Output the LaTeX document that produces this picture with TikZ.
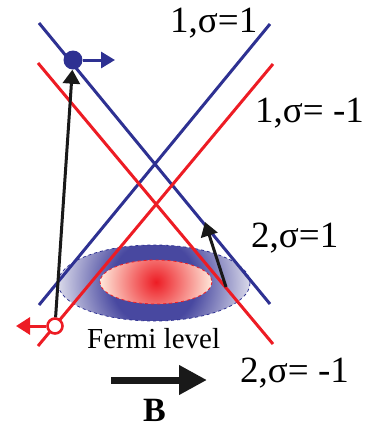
\documentclass[tikz,border=0pt]{standalone}
\usepackage{fontspec}
\setmainfont{Liberation Serif}
\usetikzlibrary{arrows.meta}
\definecolor{bblue}{RGB}{46,49,146}
\definecolor{rred}{RGB}{237,28,36}
\definecolor{bdark}{RGB}{72,72,160}
\definecolor{blight}{RGB}{218,218,234}
\definecolor{rpale}{RGB}{254,232,218}
\pgfdeclareradialshading{blueell}{\pgfpoint{0bp}{0bp}}{color(0bp)=(bdark); color(11bp)=(bdark); color(25bp)=(blight); color(50bp)=(blight)}
\pgfdeclareradialshading{redell}{\pgfpoint{0bp}{0bp}}{color(0bp)=(rred); color(25bp)=(rpale); color(50bp)=(rpale)}
\tikzset{
  band/.style={line width=3pt},
  lbl/.style={anchor=base west, inner sep=0pt, font=\fontsize{37}{42}\selectfont},
  blk/.style={line width=3pt, black!90, -{Triangle[length=14pt,width=17pt]}},
}
\begin{document}
\begin{tikzpicture}[x=1pt,y=-1pt]
\useasboundingbox (0,0) rectangle (366,429);
% Fermi surfaces
\begin{scope}
  \clip (154,283) ellipse [x radius=96, y radius=38];
  \shade[shading=blueell] (154,283) circle [radius=96];
\end{scope}
\draw[bblue, line width=0.8pt, dashed] (154,283) ellipse [x radius=96, y radius=38];
\begin{scope}
  \clip (156,282) ellipse [x radius=56, y radius=22];
  \shade[shading=redell] (156,282) circle [radius=56];
\end{scope}
\draw[rred, line width=0.8pt, dashed] (156,282) ellipse [x radius=56, y radius=22];
% band lines
\coordinate (b1a) at (39,23);  \coordinate (b1b) at (270,304);
\coordinate (b2a) at (39,305); \coordinate (b2b) at (270,24);
\coordinate (r1a) at (38,63);  \coordinate (r1b) at (273,344);
\coordinate (r2a) at (38,346); \coordinate (r2b) at (273,64);
\draw[band, bblue] (b1a) -- (b1b);
\draw[band, bblue] (b2a) -- (b2b);
\draw[band, rred] (r1a) -- (r1b);
\draw[band, rred] (r2a) -- (r2b);
% points
\node[circle, fill=bblue, inner sep=0pt, minimum size=19pt] (bd) at (73,60) {};
\node[circle, draw=rred, fill=white, line width=2.6pt, inner sep=0pt, minimum size=15pt] (rc) at (55,326) {};
\coordinate (bt) at (115,60);
\coordinate (rt) at (16,326);
\coordinate (s1) at (226,287);
\coordinate (s2) at (205,222);
\draw[blk] (rc) -- (bd);
\draw[blk] (s1) -- (s2);
\draw[line width=3pt, bblue, -{Triangle[length=14pt,width=16pt]}] (bd.east) -- (bt);
\draw[line width=3pt, rred, -{Triangle[length=14pt,width=17pt]}] (rc.west) -- (rt);
% labels
\node[lbl] (l1) at (170,32) {1,σ=1};
\node[lbl] (l2) at (255,122) {1,σ= -1};
\node[lbl] (l3) at (251,247) {2,σ=1};
\node[lbl] (l4) at (240,382) {2,σ= -1};
\node[anchor=base west, inner sep=0pt, font=\fontsize{29}{34}\selectfont] (fl) at (87,348) {Fermi level};
% B field
\coordinate (ba) at (111,380);
\coordinate (bb) at (207,380);
\draw[line width=7pt, black!90, -{Triangle[length=28pt,width=28pt]}] (ba) -- (bb);
\node[anchor=base west, inner sep=0pt, font=\fontsize{34}{40}\selectfont\bfseries] (B) at (143,421) {B};
\end{tikzpicture}
\end{document}
